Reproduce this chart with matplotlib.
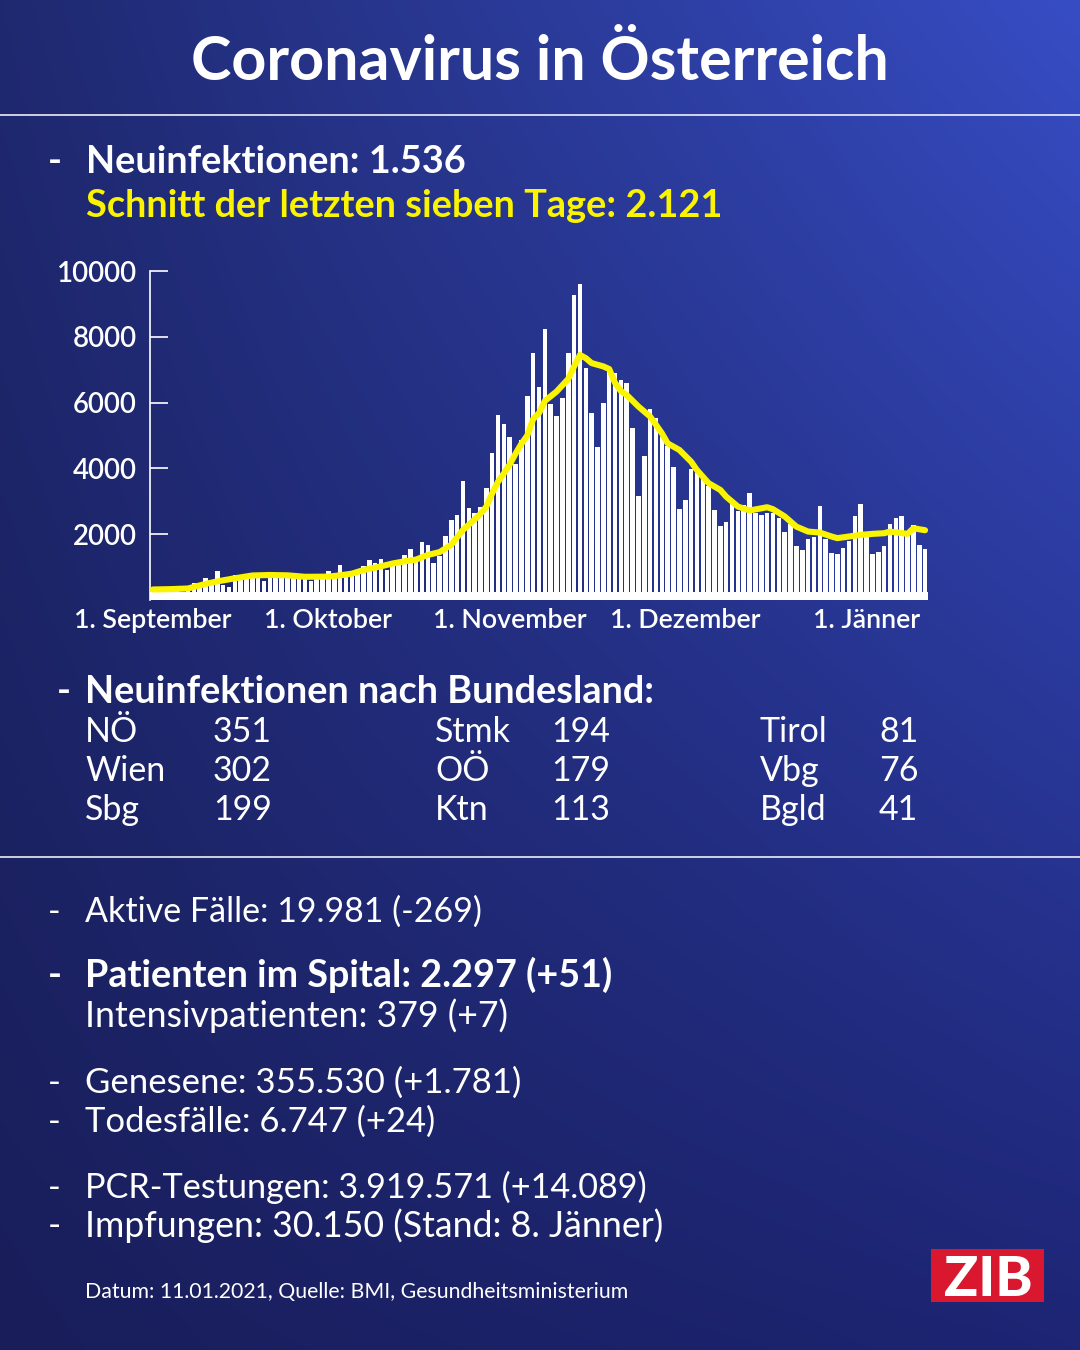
import matplotlib

matplotlib.use("Agg")
import matplotlib.pyplot as plt
from matplotlib.lines import Line2D
from matplotlib.patches import Rectangle
import numpy as np

W, H = 1080, 1350
FONT = "Lato"
WHITE = "#ffffff"
YELLOW = "#fbf400"
ZIB_RED = "#d9172f"

# daily new infections, 1 Sep 2020 .. 11 Jan 2021
new_cases = [
    300, 330, 410, 330, 280, 220, 330, 520, 500, 660,
    570, 875, 470, 390, 765, 765, 780, 815, 815, 575,
    775, 710, 710, 835, 730, 720, 720, 570, 730, 770,
    880, 720, 1065, 720, 770, 835, 1025, 1220, 1130, 1240,
    915, 1125, 1140, 1355, 1560, 1320, 1750, 1675, 1120, 1350,
    1960, 2430, 2575, 3615, 2785, 2650, 2840, 3400, 4460, 5625,
    5350, 4965, 4145, 4865, 6215, 7520, 6460, 8240, 5945, 5600,
    6125, 7520, 9275, 9600, 7055, 5680, 4665, 5980, 6980, 6900,
    6680, 6610, 5230, 3165, 4380, 5800, 5540, 4965, 4675, 4045,
    2760, 3040, 3975, 3855, 3750, 3450, 2740, 2260, 2385, 2920,
    2690, 2890, 3245, 2640, 2585, 2640, 2650, 2485, 2080, 2310,
    1645, 1520, 1850, 1930, 2860, 1850, 1440, 1410, 1595, 1795,
    2555, 2910, 2080, 1400, 1470, 1645, 2310, 2485, 2555, 1950,
    2280, 1675, 1536,
]

# seven day average, read at these day indices
avg_days = [
    0, 3, 6, 9, 11, 14, 17, 20, 23, 26, 30, 32, 34, 36, 39, 41, 43, 45, 47, 49,
    51, 53, 55, 56, 57, 58, 59, 60, 61, 62, 63, 64, 65, 66, 67, 69, 71, 72, 73, 74,
    75, 77, 78, 79, 80, 81, 83, 85, 87, 88, 90, 92, 93, 95, 97, 98, 100, 102, 105, 106,
    108, 110, 112, 114, 116, 117, 119, 121, 123, 125, 126, 129, 130, 132,
]
avg_values = [
    320, 330, 350, 490, 565, 660, 745, 760, 750, 705, 710, 750, 800, 910, 1025, 1110, 1175, 1230, 1370, 1455,
    1680, 2130, 2450, 2620, 2840, 3245, 3600, 3850, 4120, 4450, 4750, 5000, 5500, 5680, 6050, 6335, 6720, 7100, 7450, 7350,
    7200, 7100, 7020, 6600, 6350, 6230, 5880, 5575, 5070, 4760, 4560, 4205, 3950, 3550, 3345, 3140, 2840, 2720, 2820, 2760,
    2540, 2230, 2080, 2050, 1930, 1880, 1930, 1980, 2010, 2030, 2080, 2010, 2180, 2121,
]

month_ticks = [0, 30, 61, 91, 122]
month_labels = ["1. September", "1. Oktober", "1. November", "1. Dezember", "1. Jänner"]
y_ticks = [2000, 4000, 6000, 8000, 10000]

state_names = [["NÖ", "Wien", "Sbg"], ["Stmk", "OÖ", "Ktn"], ["Tirol", "Vbg", "Bgld"]]
state_values = [[351, 302, 199], [194, 179, 113], [81, 76, 41]]

# lower block: (text, bold, baseline y, right edge in the reference)
info_lines = [
    ("Aktive Fälle: 19.981 (-269)", False, 922, 483, True),
    ("Patienten im Spital: 2.297 (+51)", True, 987, 612, True),
    ("Intensivpatienten: 379 (+7)", False, 1027, 508, False),
    ("Genesene: 355.530 (+1.781)", False, 1093, 520, True),
    ("Todesfälle: 6.747 (+24)", False, 1132, 435, True),
    ("PCR-Testungen: 3.919.571 (+14.089)", False, 1198, 648, True),
    ("Impfungen: 30.150 (Stand: 8. Jänner)", False, 1237, 661, True),
]

fig = plt.figure(figsize=(W / 100, H / 100), dpi=100)
renderer = fig.canvas.get_renderer()

# background gradient
bg = fig.add_axes([0, 0, 1, 1], zorder=-10)
u = np.linspace(0, 1, 216)[None, :, None]
v = np.linspace(0, 1, 270)[:, None, None]
tl = np.array([0x1f, 0x29, 0x70]) / 255
tr = np.array([0x37, 0x4d, 0xc4]) / 255
bl = np.array([0x19, 0x1e, 0x5a]) / 255
br = np.array([0x1d, 0x25, 0x74]) / 255
img = (1 - u) * (1 - v) * tl + u * (1 - v) * tr + (1 - u) * v * bl + u * v * br
bg.imshow(img, aspect="auto", extent=[0, 1, 0, 1], interpolation="bilinear")
bg.set_xlim(0, 1)
bg.set_ylim(0, 1)
bg.axis("off")

for yy in (115, 857):
    fig.add_artist(Line2D([0, 1], [1 - yy / H] * 2, transform=fig.transFigure, color=WHITE, lw=1.1))


def fit(s, target, weight="normal"):
    t = fig.text(0, 0, s, fontsize=40, fontweight=weight, family=FONT)
    w = t.get_window_extent(renderer=renderer).width
    t.remove()
    return 40 * target / w


def put(x, y, s, size, weight="normal", color=WHITE, ha="left", va="baseline"):
    fig.text(x / W, 1 - y / H, s, fontsize=size, fontweight=weight, color=color,
             ha=ha, va=va, family=FONT)


title_size = fit("Coronavirus in Österreich", 698, "bold")
head_size = fit("Schnitt der letzten sieben Tage: 2.121", 636, "bold")
table_size = fit("Stmk", 79) * 0.5 + fit("Wien", 77) * 0.5
tick_size = fit("1. November", 154, "semibold")
foot_size = fit("Datum: 11.01.2021, Quelle: BMI, Gesundheitsministerium", 542)

put(540, 80, "Coronavirus in Österreich", title_size, "bold", ha="center")

put(48, 173, "-", head_size, "bold")
put(86, 173, "Neuinfektionen: 1.536", head_size, "bold")
put(86, 217, "Schnitt der letzten sieben Tage: 2.121", head_size, "bold", color=YELLOW)

# chart
ax = fig.add_axes([150 / W, (H - 600) / H, (928 - 150) / W, (600 - 271) / H])
ax.set_facecolor("none")
days = np.arange(len(new_cases))
ax.bar(days, new_cases, width=0.78, color=WHITE, zorder=2)
ax.axhspan(0, 250, color=WHITE, zorder=3, lw=0)
ax.plot(avg_days, avg_values, color=YELLOW, lw=4.4, zorder=4,
        solid_joinstyle="round", solid_capstyle="round")
ax.set_xlim(-0.5, len(new_cases) - 0.5)
ax.set_ylim(0, 10000)
for side in ("top", "right", "bottom"):
    ax.spines[side].set_visible(False)
ax.spines["left"].set_color(WHITE)
ax.spines["left"].set_linewidth(1.2)
ax.set_yticks(y_ticks, [str(t) for t in y_ticks])
ax.tick_params(axis="y", direction="in", length=13, width=1.2, color=WHITE,
               labelcolor=WHITE, labelsize=tick_size * 1.03, pad=9.5)
ax.set_xticks(month_ticks, month_labels)
ax.tick_params(axis="x", length=0, labelcolor=WHITE, labelsize=tick_size, pad=6)
for lab in ax.get_xticklabels() + ax.get_yticklabels():
    lab.set_family(FONT)
    lab.set_fontweight("semibold")

# Bundeslaender
put(57, 703, "-", head_size, "bold")
put(85, 703, "Neuinfektionen nach Bundesland:", head_size, "bold")
name_x = [85, 435, 760]
value_x = [213, 551, 879]
row_y = [742, 781, 820]
for c in range(3):
    for r in range(3):
        put(name_x[c], row_y[r], state_names[c][r], table_size)
        put(value_x[c], row_y[r], str(state_values[c][r]), table_size)

# lower block
for text, bold, y, right, dash in info_lines:
    weight = "bold" if bold else "normal"
    size = fit(text, right - 85, weight)
    if dash:
        put(48, y, "-", size, weight)
    put(85, y, text, size, weight)

put(85, 1298, "Datum: 11.01.2021, Quelle: BMI, Gesundheitsministerium", foot_size)

# ZIB logo
fig.add_artist(Rectangle((931 / W, 1 - 1302 / H), (1044 - 931) / W, (1302 - 1249) / H,
                         transform=fig.transFigure, color=ZIB_RED, lw=0))
zib_size = fit("ZIB", 89, "black")
put(988, 1276, "ZIB", zib_size, "black", ha="center", va="center_baseline")

fig.savefig("out.png", dpi=100)
